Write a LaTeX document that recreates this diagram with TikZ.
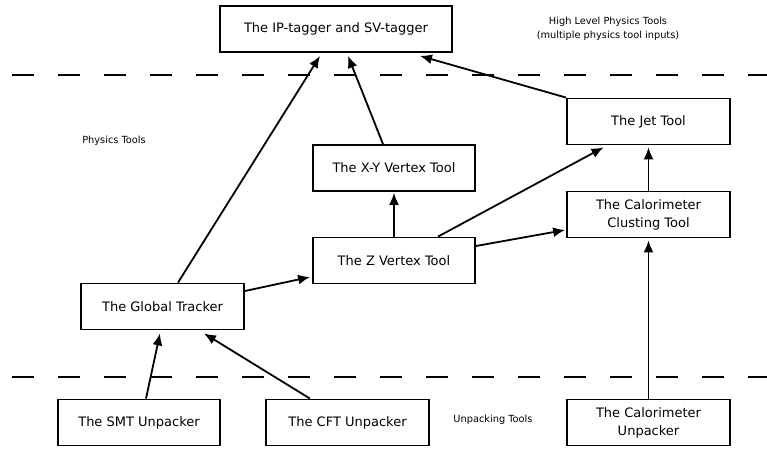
\documentclass[tikz,border=0pt]{standalone}
\usepackage{fontspec}
\setmainfont{DejaVu Sans}
\usetikzlibrary{arrows.meta,positioning,calc}
\tikzset{
tool/.style = {draw, fill=white, rectangle, line width=1.8pt, minimum height=46pt, minimum width=162pt, align=center, font=\fontsize{13}{18}\selectfont},
layer/.style = {line width=2.4pt, dash pattern=on 22pt off 24pt},
note/.style = {align=center, font=\fontsize{9.8}{14}\selectfont},
flow/.style = {->, line width=1.8pt}
}
\begin{document}
\begin{tikzpicture}[x=1pt, y=-1pt, >={Latex[length=12pt,width=10pt]}]
  \useasboundingbox (0,0) rectangle (767,450);

  % layer boundaries
  \coordinate (topl)  at (12,75);
  \coordinate (topr)  at (767,75);
  \coordinate (botl)  at (12,377);
  \coordinate (botr)  at (767,377);
  \draw [layer] (topl) -- (topr);
  \draw [layer] (botl) -- (botr);

  % tools
  \node [tool, minimum width=232pt] (tagger)    at (336,29)    {The IP-tagger and SV-tagger};
  \node [tool, minimum width=163pt] (jet)       at (648.5,121.5) {The Jet Tool};
  \node [tool]                      (xyvertex)  at (394,168)   {The X-Y Vertex Tool};
  \node [tool, minimum width=163pt] (cluster)   at (648.5,214.5) {The Calorimeter\\Clusting Tool};
  \node [tool]                      (zvertex)   at (394,260.5) {The Z Vertex Tool};
  \node [tool, minimum width=163pt] (tracker)   at (162.5,306.5) {The Global Tracker};
  \node [tool]                      (smt)       at (139,422.5) {The SMT Unpacker};
  \node [tool, minimum width=163pt] (cft)       at (347.5,422.5) {The CFT Unpacker};
  \node [tool, minimum width=163pt] (calunpack) at (648.5,422.5) {The Calorimeter\\Unpacker};

  % layer names
  \node [note] (highlevel) at (608,29)  {High Level Physics Tools\\(multiple physics tool inputs)};
  \node [note] (physics)   at (114,141) {Physics Tools};
  \node [note] (unpacking) at (493,420) {Unpacking Tools};

  % data flow
  \draw [flow] ([xshift=15.5pt]tracker.north) -- ([xshift=-16pt,yshift=-3pt]tagger.south);
  \draw [flow] ([xshift=-11pt]xyvertex.north) -- ([xshift=12pt,yshift=-3pt]tagger.south);
  \draw [flow] (jet.north west) -- ([xshift=84pt,yshift=-3pt]tagger.south);
  \draw [flow] (zvertex.north) -- ([yshift=-1pt]xyvertex.south);
  \draw [flow] ([xshift=44pt]zvertex.north) -- ([xshift=-45pt,yshift=-2pt]jet.south);
  \draw [flow] ([yshift=14.5pt]zvertex.east) -- ([xshift=-1pt,yshift=-15.5pt]cluster.west);
  \draw [flow] (cluster.north) -- ([yshift=-2pt]jet.south);
  \draw [flow] ([yshift=15.5pt]tracker.east) -- ([xshift=-2pt,yshift=-16.5pt]zvertex.west);
  \draw [flow] ([xshift=7pt]smt.north) -- ([xshift=-2.5pt,yshift=-3pt]tracker.south);
  \draw [flow] ([xshift=-37.5pt]cft.north) -- ([xshift=41.5pt,yshift=-3pt]tracker.south);
  \draw [flow] (calunpack.north) -- ([yshift=-2pt]cluster.south);
\end{tikzpicture}
\end{document}
